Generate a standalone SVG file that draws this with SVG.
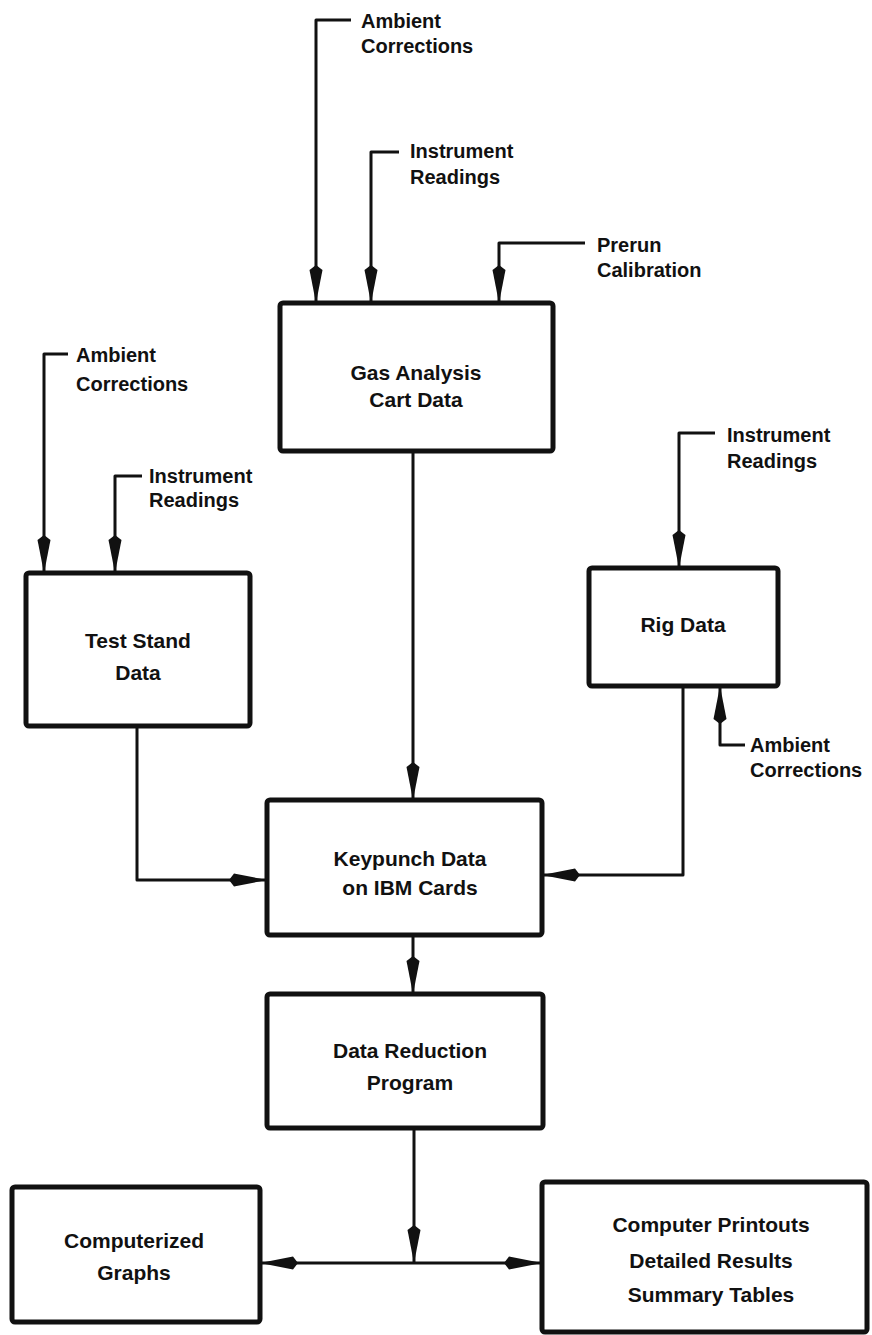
<svg xmlns="http://www.w3.org/2000/svg" width="872" height="1335" viewBox="0 0 872 1335">
  <defs>
    <style>
      .box { fill: #fff; stroke: #111; stroke-width: 5; }
      .conn { fill: none; stroke: #111; stroke-width: 3; stroke-linejoin: round; }
      .boxtext { font-family: "Liberation Sans", Arial, sans-serif; font-weight: bold; font-size: 21px; fill: #111; text-anchor: middle; }
      .label { font-family: "Liberation Sans", Arial, sans-serif; font-weight: bold; font-size: 20px; fill: #111; }
    </style>
    <!-- long narrow wedge arrowhead -->
    <marker id="arrow" markerUnits="userSpaceOnUse" markerWidth="40" markerHeight="16" viewBox="0 -8 40 16" refX="38" refY="0" orient="auto">
      <path d="M0,0 L5,-6.5 L38,0 L5,6.5 Z" fill="#111"/>
    </marker>
  </defs>

  <rect width="872" height="1335" fill="#fff"/>

  <!-- connectors -->
  <g id="connectors" class="conn">
    <path d="M351,20 H316 V303" marker-end="url(#arrow)"/>
    <path d="M399,152 H371 V303" marker-end="url(#arrow)"/>
    <path d="M585,243 H499 V303" marker-end="url(#arrow)"/>
    <path d="M413,451 V800" marker-end="url(#arrow)"/>
    <path d="M68,354 H44 V573" marker-end="url(#arrow)"/>
    <path d="M142,476 H115 V573" marker-end="url(#arrow)"/>
    <path d="M137,726 V880 H267" marker-end="url(#arrow)"/>
    <path d="M715,433 H679 V568" marker-end="url(#arrow)"/>
    <path d="M683,686 V875 H542" marker-end="url(#arrow)"/>
    <path d="M745,745 H720 V686" marker-end="url(#arrow)"/>
    <path d="M413,935 V994" marker-end="url(#arrow)"/>
    <path d="M414,1128 V1263" marker-end="url(#arrow)"/>
    <path d="M414,1263 H260" marker-end="url(#arrow)"/>
    <path d="M414,1263 H542" marker-end="url(#arrow)"/>
  </g>

  <!-- input labels -->
  <g id="labels" class="label">
    <text x="361" y="28">Ambient</text>
    <text x="361" y="53">Corrections</text>
    <text x="410" y="158">Instrument</text>
    <text x="410" y="184">Readings</text>
    <text x="597" y="252">Prerun</text>
    <text x="597" y="277">Calibration</text>
    <text x="76" y="362">Ambient</text>
    <text x="76" y="391">Corrections</text>
    <text x="149" y="483">Instrument</text>
    <text x="149" y="507">Readings</text>
    <text x="727" y="442">Instrument</text>
    <text x="727" y="468">Readings</text>
    <text x="750" y="752">Ambient</text>
    <text x="750" y="777">Corrections</text>
  </g>

  <g id="gas-analysis">
    <rect class="box" x="280" y="303" width="273" height="148" rx="3"/>
    <text class="boxtext" x="416" y="380">Gas Analysis</text>
    <text class="boxtext" x="416" y="407">Cart Data</text>
  </g>

  <g id="test-stand">
    <rect class="box" x="26" y="573" width="224" height="153" rx="3"/>
    <text class="boxtext" x="138" y="648">Test Stand</text>
    <text class="boxtext" x="138" y="680">Data</text>
  </g>

  <g id="rig-data">
    <rect class="box" x="589" y="568" width="189" height="118" rx="3"/>
    <text class="boxtext" x="683" y="632">Rig Data</text>
  </g>

  <g id="keypunch">
    <rect class="box" x="267" y="800" width="275" height="135" rx="3"/>
    <text class="boxtext" x="410" y="866">Keypunch Data</text>
    <text class="boxtext" x="410" y="895">on IBM Cards</text>
  </g>

  <g id="data-reduction">
    <rect class="box" x="267" y="994" width="276" height="134" rx="3"/>
    <text class="boxtext" x="410" y="1058">Data Reduction</text>
    <text class="boxtext" x="410" y="1090">Program</text>
  </g>

  <g id="graphs">
    <rect class="box" x="12" y="1187" width="248" height="135" rx="3"/>
    <text class="boxtext" x="134" y="1248">Computerized</text>
    <text class="boxtext" x="134" y="1280">Graphs</text>
  </g>

  <g id="printouts">
    <rect class="box" x="542" y="1182" width="325" height="150" rx="3"/>
    <text class="boxtext" x="711" y="1232">Computer Printouts</text>
    <text class="boxtext" x="711" y="1268">Detailed Results</text>
    <text class="boxtext" x="711" y="1302">Summary Tables</text>
  </g>
</svg>
